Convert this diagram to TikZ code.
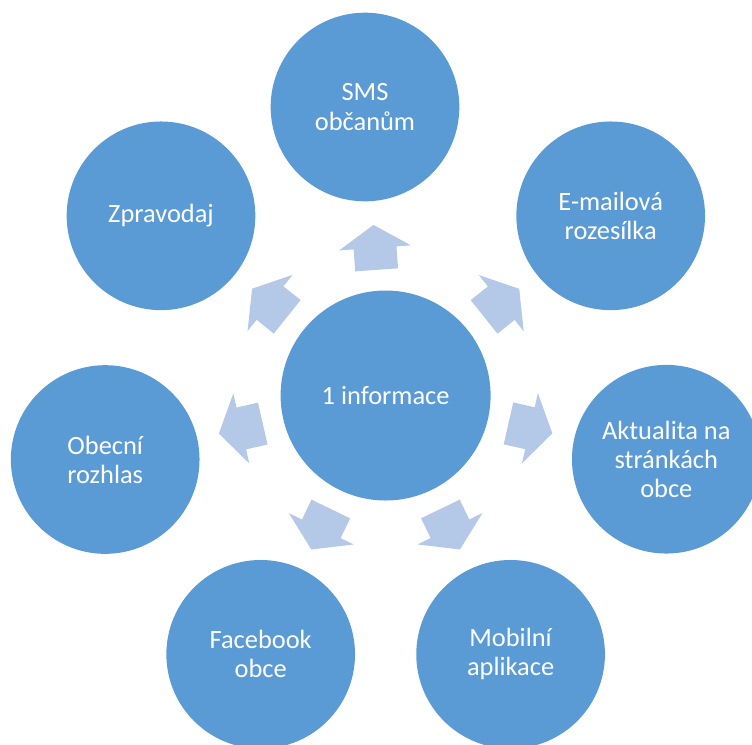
\documentclass[tikz,border=0pt]{standalone}
\usepackage{fontspec}
\setmainfont{Carlito}
\usetikzlibrary{calc}
\definecolor{discblue}{HTML}{5B9BD5}
\definecolor{arrowblue}{HTML}{B4C8E7}
\tikzset{
  disc/.style={circle, fill=discblue, draw=none, inner sep=0pt,
    minimum size=141.5pt, text=white, align=center,
    font=\fontsize{19.8}{21.8}\selectfont},
  hubdisc/.style={disc, minimum size=157.5pt},
  blockarrow/.style={fill=arrowblue, draw=none}
}
% block arrow from the hub towards an outer disc
\newcommand\spokearrow[1]{%
  \coordinate (ab) at ($(hub)!94.5pt!(#1)$);
  \coordinate (as) at ($(hub)!111pt!(#1)$);
  \coordinate (at) at ($(hub)!128.25pt!(#1)$);
  \fill[blockarrow]
    ($(ab)!16.1pt!90:(#1)$) -- ($(as)!16.1pt!90:(#1)$) --
    ($(as)!27pt!90:(#1)$) -- (at) --
    ($(as)!27pt!-90:(#1)$) -- ($(as)!16.1pt!-90:(#1)$) --
    ($(ab)!16.1pt!-90:(#1)$) -- cycle;}
\begin{document}
\begin{tikzpicture}[x=0.75pt, y=-0.75pt]
  \useasboundingbox (0,0) rectangle (752,744);
  \begin{scope}
    \clip (0,0) rectangle (752,744);
    \node[hubdisc] (hub) at (385.6,395.5) {1 informace};
    \node[disc] (sms) at (365,107) {SMS\\občanům};
    \node[disc] (email) at (610.7,215.8) {E-mailová\\rozesílka};
    \node[disc] (aktual) at (666.3,459.2) {Aktualita na\\stránkách\\obce};
    \node[disc] (mobil) at (510.6,654.3) {Mobilní\\aplikace};
    \node[disc] (fb) at (260.7,654.3) {Facebook\\obce};
    \node[disc] (rozhlas) at (105.2,459.5) {Obecní\\rozhlas};
    \node[disc] (zprav) at (161,215.8) {Zpravodaj};
    \spokearrow{sms}
    \spokearrow{email}
    \spokearrow{aktual}
    \spokearrow{mobil}
    \spokearrow{fb}
    \spokearrow{rozhlas}
    \spokearrow{zprav}
  \end{scope}
\end{tikzpicture}
\end{document}
